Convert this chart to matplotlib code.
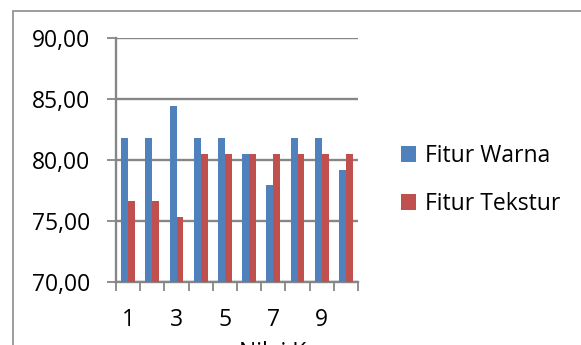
import matplotlib
matplotlib.use("Agg")
import matplotlib.pyplot as plt
from matplotlib.patches import Rectangle
import numpy as np

categories = [1, 2, 3, 4, 5, 6, 7, 8, 9, 10]
fitur_warna = [81.82, 81.82, 84.42, 81.82, 81.82, 80.52, 77.92, 81.82, 81.82, 79.22]
fitur_tekstur = [76.62, 76.62, 75.32, 80.52, 80.52, 80.52, 80.52, 80.52, 80.52, 80.52]
series_names = ["Fitur Warna", "Fitur Tekstur"]
tick_labels = ["1", "3", "5", "7", "9"]
yticks = [70, 75, 80, 85, 90]

plt.rcParams['font.family'] = ['Open Sans', 'DejaVu Sans']
W, H = 581, 345
FS = 16.5
fig = plt.figure(figsize=(W/100, H/100), dpi=100)

# chart border
fig.patches.append(Rectangle((12.5/W, -0.2), 1.2, (H-10.5)/H + 0.2, transform=fig.transFigure,
                             fill=False, edgecolor='#8c8c8c', linewidth=1.2))

ax = fig.add_axes([116/W, 1-282/H, (358-116)/W, (282-38.3)/H])
grid_c = '#868686'
x = np.arange(len(categories))
bw = 0.286
ax.bar(x - bw/2, fitur_warna, width=bw, color='#4F81BD', label=series_names[0], zorder=3)
ax.bar(x + bw/2, fitur_tekstur, width=bw, color='#C0504D', label=series_names[1], zorder=3)

ax.set_xlim(-0.5, len(categories) - 0.5)
ax.set_ylim(70, 90)
ax.set_yticks(yticks)
ax.set_yticklabels([f"{v:.2f}".replace('.', ',') for v in yticks])
ax.yaxis.grid(True, color=grid_c, linewidth=1.7, zorder=0)
ax.set_axisbelow(True)

ax.set_xticks(np.arange(-0.5, len(categories), 1.0))
ax.set_xticklabels([])
ax.set_xticks(x[::2], minor=True)
ax.set_xticklabels(tick_labels, minor=True)
ax.tick_params(axis='x', which='major', direction='out', length=6.5, width=1.3, color=grid_c)
ax.tick_params(axis='x', which='minor', length=0, pad=19, labelsize=FS)
ax.tick_params(axis='y', direction='out', length=6.5, width=1.3, color=grid_c, labelsize=FS, pad=12)

for s in ['top', 'right']:
    ax.spines[s].set_visible(False)
for s in ['left', 'bottom']:
    ax.spines[s].set_color(grid_c)
    ax.spines[s].set_linewidth(1.7)

fig.text(273/W, 1-341/H, "Nilai K", ha='center', va='top', fontsize=FS)

leg = ax.legend(loc='center left', bbox_to_anchor=(401/W, 1-180/H), bbox_transform=fig.transFigure,
                frameon=False, fontsize=FS, handlelength=0.65, handleheight=0.65,
                handletextpad=0.4, labelspacing=1.05, borderpad=0, borderaxespad=0)

fig.savefig("out.png", dpi=100)
